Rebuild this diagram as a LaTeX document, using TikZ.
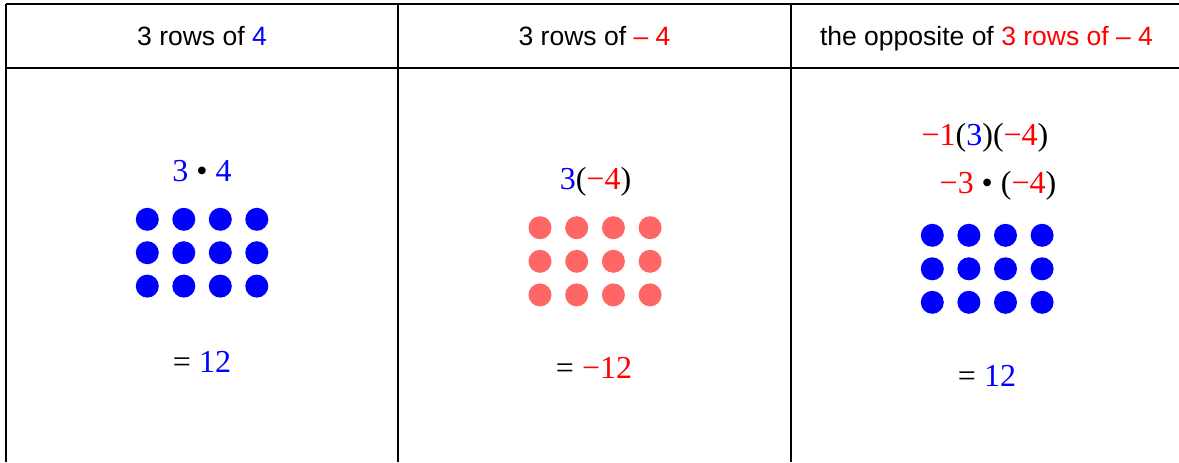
\documentclass[tikz,border=0pt]{standalone}
\usepackage{fontspec}
\setmainfont{Liberation Serif}
\newfontfamily\headfont{Liberation Sans}
\usepackage{xcolor}
\usetikzlibrary{positioning}
\definecolor{posblue}{RGB}{0,0,255}
\definecolor{negred}{RGB}{255,0,0}
\definecolor{dotred}{RGB}{255,102,102}
\tikzset{>=latex}
\tikzset{
  grid line/.style={line width=1pt, black},
  head/.style={anchor=base, inner sep=0pt, font=\headfont\fontsize{13.25}{15}\selectfont},
  expr/.style={anchor=base, inner sep=0pt, font=\fontsize{16}{19}\selectfont},
  dot/.style={circle, inner sep=0pt, minimum size=11.5pt, draw=none}
}

\begin{document}
\begin{tikzpicture}[x=0.5pt, y=-0.5pt]
  \useasboundingbox (0,0) rectangle (1179,462);
  % table lines
  \draw[grid line] (6,4) -- (1179,4);
  \draw[grid line] (6,68) -- (1179,68);
  \foreach \xx in {6,398,791}
    \draw[grid line] (\xx,4) -- (\xx,462);
  % headers
  \node[head] (headA) at (202,45) {3 rows of \textcolor{posblue}{4}};
  \node[head] (headB) at (594.5,45) {3 rows of \textcolor{negred}{– 4}};
  \node[head] (headC) at (986.5,45) {the opposite of \textcolor{negred}{3 rows of – 4}};
  % first column
  \node[expr] (prodA) at (202,181.5) {\textcolor{posblue}{3} • \textcolor{posblue}{4}};
  \foreach \r in {1,2,3}
    \foreach \c in {1,...,4}
      \node[dot, fill=posblue] (dotA\r\c) at ({147.3+36.5*(\c-1)},{219.3+33.4*(\r-1)}) {};
  \node[expr] (resA) at (202,372) {= \textcolor{posblue}{12}};
  % second column
  \node[expr] (prodB) at (595.5,189) {\textcolor{posblue}{3}(\textcolor{negred}{−4})};
  \foreach \r in {1,2,3}
    \foreach \c in {1,...,4}
      \node[dot, fill=dotred] (dotB\r\c) at ({540+36.7*(\c-1)},{227.7+33.6*(\r-1)}) {};
  \node[expr] (resB) at (594,378) {= \textcolor{negred}{−12}};
  % third column
  \node[expr] (prodC) at (985,145) {\textcolor{negred}{−1}(\textcolor{posblue}{3})(\textcolor{negred}{−4})};
  \node[expr] (stepC) at (998,193) {\textcolor{negred}{−3} • (\textcolor{negred}{−4})};
  \foreach \r in {1,2,3}
    \foreach \c in {1,...,4}
      \node[dot, fill=posblue] (dotC\r\c) at ({932.3+36.6*(\c-1)},{235.3+33.5*(\r-1)}) {};
  \node[expr] (resC) at (987,386.5) {= \textcolor{posblue}{12}};
\end{tikzpicture}
\end{document}
